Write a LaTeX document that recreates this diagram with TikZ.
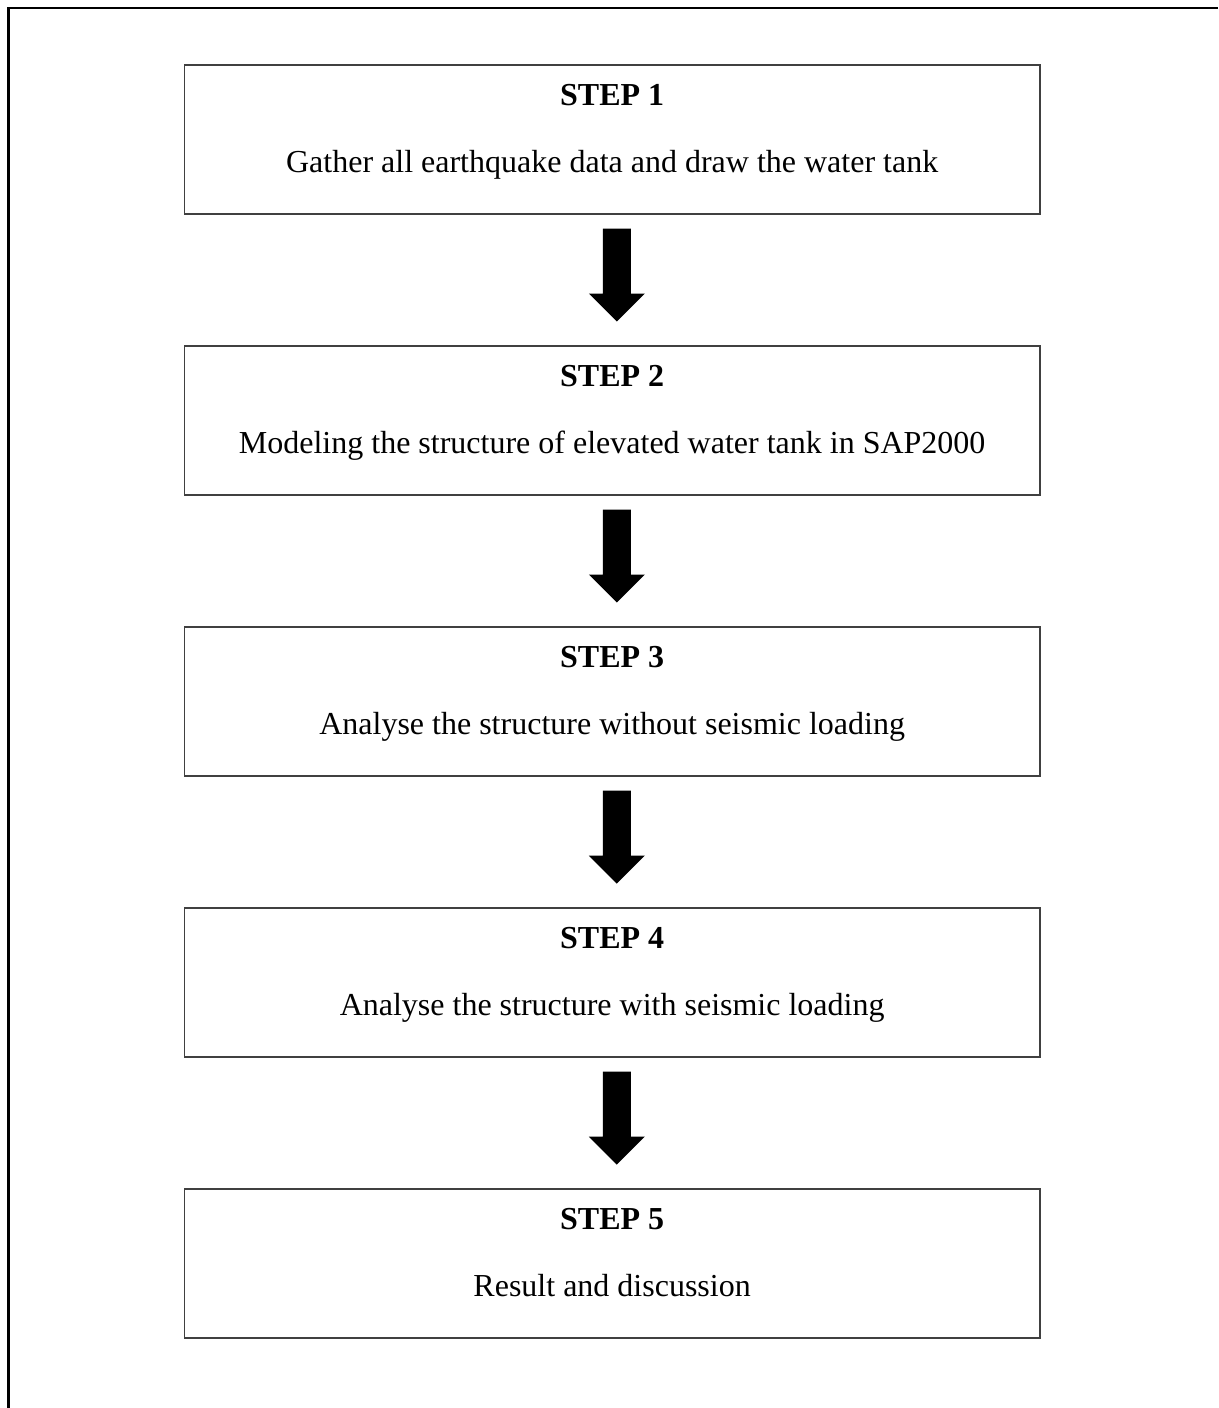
\documentclass[tikz,border=0pt]{standalone}
\usepackage{fontspec}
\setmainfont{Liberation Serif}
\usetikzlibrary{calc}
\begin{document}
\begin{tikzpicture}[x=1pt,y=1pt,
  stepbox/.style={draw=black!75, line width=1.5pt, minimum width=855.8pt, minimum height=149pt, inner sep=0pt, anchor=north west},
  steptitle/.style={font=\fontsize{32}{38}\selectfont\bfseries, anchor=base, inner sep=0pt},
  steptext/.style={font=\fontsize{32}{38}\selectfont, anchor=base, inner sep=0pt},
  blockarrow/.style={fill=black}]
\useasboundingbox (0,0) rectangle (1218,-1408);
\coordinate (fa) at (8.5,-1408);
\coordinate (fb) at (8.5,-8);
\coordinate (fc) at (1218,-8);
\draw[line width=2.6pt] (fa) -- (fb) -- (fc);

\foreach \i/\y/\t in {1/64/{Gather all earthquake data and draw the water tank},
                      2/345/{Modeling the structure of elevated water tank in SAP2000},
                      3/626/{Analyse the structure without seismic loading},
                      4/907/{Analyse the structure with seismic loading},
                      5/1188/{Result and discussion}}{
  \node[stepbox] (b\i) at (183.5,-\y) {};
  \node[steptitle] (h\i) at ($(b\i.north)+(0,-41)$) {STEP \i};
  \node[steptext] (t\i) at ($(b\i.north)+(0,-108)$) {\t};
}

\foreach \i in {1,2,3,4}{
  \fill[blockarrow] let \p1=(b\i.south) in
    (\x1+4.6-14,\y1-14) -- (\x1+4.6+14,\y1-14) -- (\x1+4.6+14,\y1-79) --
    (\x1+4.6+28,\y1-79) -- (\x1+4.6,\y1-107) -- (\x1+4.6-28,\y1-79) --
    (\x1+4.6-14,\y1-79) -- cycle;
}
\end{tikzpicture}
\end{document}
